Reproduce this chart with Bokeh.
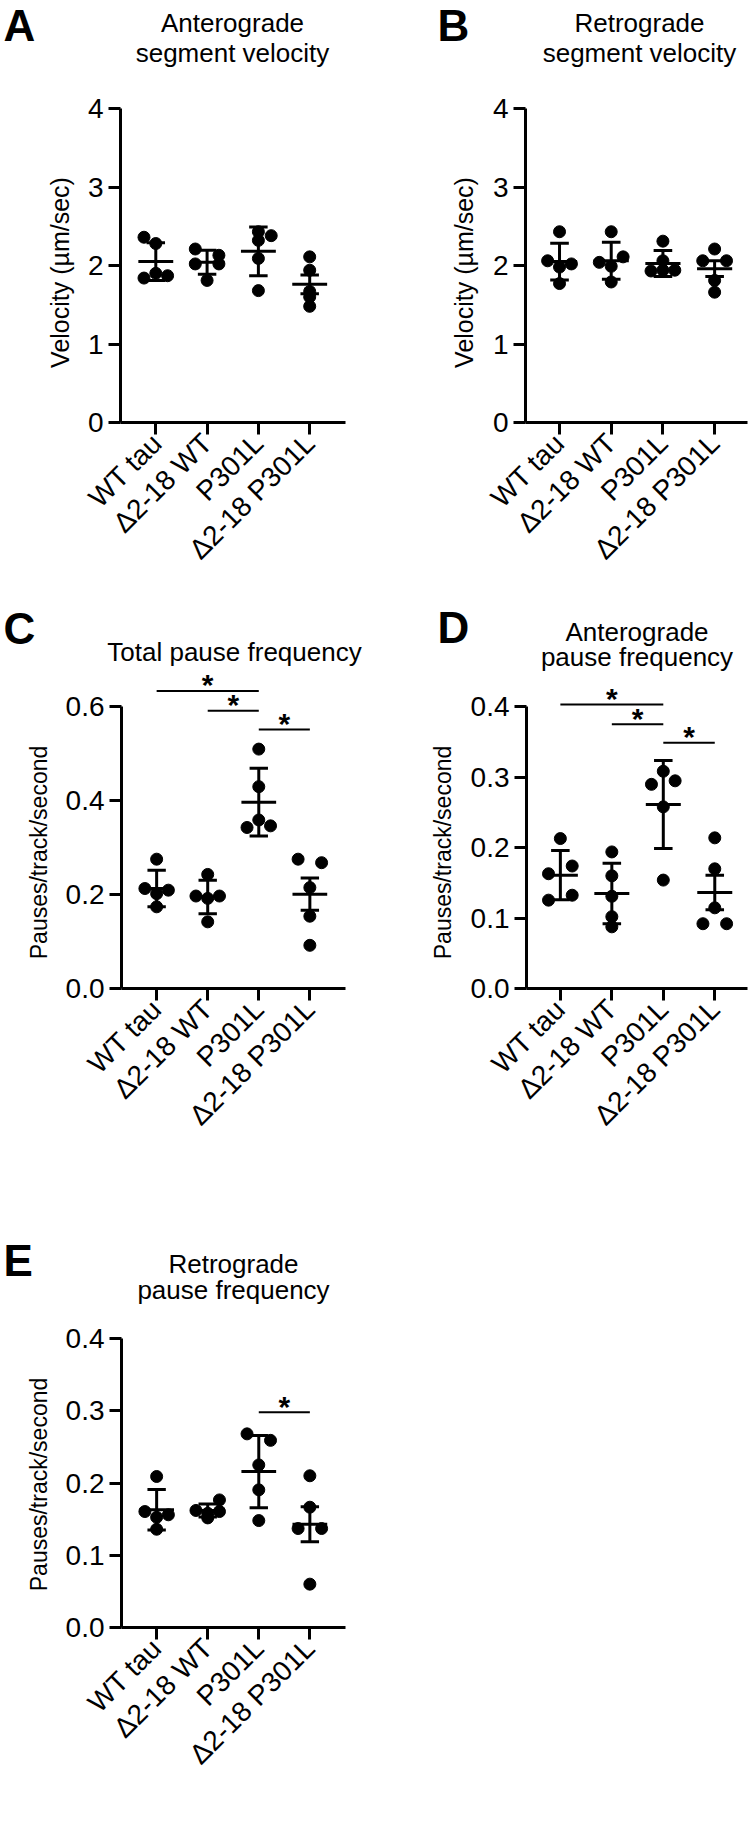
from math import pi
from bokeh.plotting import figure
from bokeh.models import Range1d, FixedTicker, Label, NumeralTickFormatter, ColumnDataSource
from bokeh.layouts import column, row
from bokeh.embed import file_html
from bokeh.resources import INLINE
from bokeh.core.properties import value

groups = ["WT tau", "Δ2-18 WT", "P301L", "Δ2-18 P301L"]

# ---- Panel A: anterograde segment velocity (µm/sec)
a_values = [[2.36, 2.28, 1.84, 1.90, 1.87],
            [2.21, 2.13, 2.02, 2.02, 1.81],
            [2.43, 2.38, 2.32, 2.09, 1.68],
            [2.11, 1.94, 1.67, 1.60, 1.48]]
a_means = [2.05, 2.04, 2.18, 1.76]
a_errs = [0.24, 0.153, 0.31, 0.12]

# ---- Panel B: retrograde segment velocity (µm/sec)
b_values = [[2.43, 2.06, 2.02, 1.98, 1.77],
            [2.43, 2.11, 2.04, 1.99, 1.79],
            [2.31, 2.06, 1.94, 1.93, 1.94],
            [2.21, 2.06, 2.06, 1.81, 1.66]]
b_means = [2.05, 2.06, 2.025, 1.96]
b_errs = [0.235, 0.236, 0.166, 0.10]

# ---- Panel C: total pause frequency
c_values = [[0.2755, 0.213, 0.2095, 0.202, 0.174],
            [0.243, 0.197, 0.197, 0.192, 0.142],
            [0.51, 0.43, 0.359, 0.343, 0.3465],
            [0.2755, 0.268, 0.215, 0.154, 0.092]]
c_means = [0.213, 0.195, 0.397, 0.201]
c_errs = [0.039, 0.0355, 0.072, 0.0345]
c_sig = [(1, 3, 0.634), (2, 3, 0.5915), (3, 4, 0.5517)]

# ---- Panel D: anterograde pause frequency
d_values = [[0.213, 0.174, 0.163, 0.1255, 0.1325],
            [0.194, 0.16, 0.131, 0.102, 0.0876],
            [0.3086, 0.29, 0.295, 0.258, 0.154],
            [0.214, 0.17, 0.1146, 0.092, 0.092]]
d_means = [0.161, 0.135, 0.2615, 0.1365]
d_errs = [0.035, 0.043, 0.0625, 0.0245]
d_sig = [(1, 3, 0.4033), (2, 3, 0.3754), (3, 4, 0.349)]

# ---- Panel E: retrograde pause frequency
e_values = [[0.209, 0.1605, 0.156, 0.1526, 0.136],
            [0.1766, 0.162, 0.1605, 0.158, 0.1517],
            [0.268, 0.259, 0.225, 0.1905, 0.148],
            [0.21, 0.1665, 0.137, 0.137, 0.06]]
e_means = [0.163, 0.162, 0.2158, 0.143]
e_errs = [0.028, 0.009, 0.05, 0.0243]
e_sig = [(3, 4, 0.298)]

# horizontal spread of the dots inside each group (scatter-dot layout)
a_offsets = [[-0.23, 0, -0.23, 0, 0.23], [-0.23, 0.23, -0.23, 0.23, 0], [0, 0.25, 0, 0, 0], [0, 0, 0, 0, 0]]
b_offsets = [[0, -0.23, 0.23, 0, 0], [0, 0.23, -0.23, 0, 0], [0, 0, 0, -0.23, 0.23], [0, -0.23, 0.23, 0, 0]]
c_offsets = [[0, -0.23, 0.23, 0, 0], [0, -0.23, 0.23, 0, 0], [0, 0, 0, -0.23, 0.23], [-0.23, 0.23, 0, 0, 0]]
d_offsets = [[0, 0.23, -0.23, -0.23, 0.23], [0, 0, 0, 0, 0], [0, -0.23, 0.23, 0, 0], [0, 0, 0, -0.23, 0.23]]
e_offsets = [[0, -0.23, 0.23, 0, 0], [0.23, -0.23, 0.23, 0, 0], [-0.23, 0.23, 0, 0, 0], [0, 0, -0.23, 0.23, 0]]

FONT = "Liberation Sans"
TICK_FS = "28px"
BASE_FIX = 0.3465   # measured shift of the rendered baseline of labels, in em


def blank(w, h):
    p = figure(width=w, height=h, min_border=0, x_axis_type=None, y_axis_type=None,
               output_backend="svg", toolbar_location=None, title=None)
    p.frame_align = False
    p.outline_line_color = None
    p.grid.visible = False
    p.background_fill_color = "white"
    p.border_fill_color = "white"
    return p


def put(p, x, y, text, size, bold=False, align="center", angle=0.0):
    """x, y: wanted baseline anchor, in px from the canvas' left / bottom."""
    if angle:
        x -= BASE_FIX * size
    else:
        y += BASE_FIX * size
    p.add_layout(Label(x=x, y=y, x_units="screen", y_units="screen", text=text,
                       text_font=FONT, text_font_size=f"{size}px",
                       text_font_style="bold" if bold else "normal",
                       text_align=align, text_baseline="alphabetic", angle=angle,
                       text_color="black"))


def main(w, h, bl, br, bt, bb, xr, ytop, yticks, yfmt, ybound,
         values, offsets, means, errs, sig=()):
    p = figure(width=w, height=h, min_border_left=bl, min_border_right=br,
               min_border_top=bt, min_border_bottom=bb,
               x_range=Range1d(*xr), y_range=Range1d(0, ytop),
               output_backend="svg", toolbar_location=None, title=None)
    p.frame_align = False
    p.outline_line_color = None
    p.grid.visible = False
    p.background_fill_color = "white"
    p.border_fill_color = "white"
    xa = p.xaxis[0]
    ya = p.yaxis[0]
    xa.ticker = FixedTicker(ticks=[1, 2, 3, 4])
    xa.major_label_overrides = {i + 1: g for i, g in enumerate(groups)}
    xa.major_label_orientation = pi / 4
    xa.major_label_standoff = 4
    ya.ticker = FixedTicker(ticks=yticks)
    ya.formatter = NumeralTickFormatter(format=yfmt)
    ya.bounds = (0, ybound)
    ya.major_label_standoff = 5
    for ax in (xa, ya):
        ax.axis_line_width = 3
        ax.axis_line_color = "black"
        ax.major_tick_line_width = 3
        ax.major_tick_line_color = "black"
        ax.major_tick_out = 12
        ax.major_tick_in = 0
        ax.minor_tick_line_color = None
        ax.major_label_text_font = FONT
        ax.major_label_text_font_size = TICK_FS
        ax.major_label_text_color = "black"

    xs, ys = [], []
    for gi, (vals, offs) in enumerate(zip(values, offsets)):
        for v, o in zip(vals, offs):
            xs.append(gi + 1 + o)
            ys.append(v)
    p.scatter(xs, ys, size=12, color="black")

    gx = [i + 1 for i in range(len(means))]
    lo = [m - e for m, e in zip(means, errs)]
    hi = [m + e for m, e in zip(means, errs)]
    src = ColumnDataSource(dict(x=gx, m=means, lo=lo, hi=hi,
                                ml=[x - 0.34 for x in gx], mr=[x + 0.34 for x in gx],
                                cl=[x - 0.18 for x in gx], cr=[x + 0.18 for x in gx]))
    p.segment(x0="x", x1="x", y0="lo", y1="hi", source=src, line_width=3, line_color="black")
    p.segment(x0="ml", x1="mr", y0="m", y1="m", source=src, line_width=3, line_color="black")
    p.segment(x0="cl", x1="cr", y0="lo", y1="lo", source=src, line_width=3, line_color="black")
    p.segment(x0="cl", x1="cr", y0="hi", y1="hi", source=src, line_width=3, line_color="black")

    if sig:
        s0 = [s[0] for s in sig]
        s1 = [s[1] for s in sig]
        sy = [s[2] for s in sig]
        p.segment(x0=s0, x1=s1, y0=sy, y1=sy, line_width=2, line_color="black")
        p.text(x=[(a + b) / 2 for a, b in zip(s0, s1)], y=sy, text=["*"] * len(sig),
               text_font=value(FONT), text_font_style="bold", text_font_size="30px",
               text_align="center", text_baseline="alphabetic", y_offset=-6,
               text_color="black")
    return p


XR_L = (0.312, 4.698)
XR_R = (0.342, 4.636)
TFS = 26   # title font size
VFS = 25   # "Velocity" axis label font size
PFS = 23   # "Pauses" axis label font size

# ----- Panel A (page x 0..420, y 0..600)
hA = blank(420, 75)
put(hA, 3, 35, "A", 44, bold=True, align="left")
put(hA, 232, 43, "Anterograde", TFS)
put(hA, 232, 13, "segment velocity", TFS)
sA = blank(82, 525)
put(sA, 68, 600 - 272, "Velocity (µm/sec)", VFS, angle=pi / 2)
mA = main(338, 525, 38, 75, 33, 178, XR_L, 4, [0, 1, 2, 3, 4], "0", 4,
          a_values, a_offsets, a_means, a_errs)
panelA = column(hA, row(sA, mA))

# ----- Panel B (page x 420..750, y 0..600)
hB = blank(330, 75)
put(hB, 17, 35, "B", 44, bold=True, align="left")
put(hB, 219, 43, "Retrograde", TFS)
put(hB, 219, 13, "segment velocity", TFS)
sB = blank(64, 525)
put(sB, 52, 600 - 272, "Velocity (µm/sec)", VFS, angle=pi / 2)
mB = main(266, 525, 41, 3, 33, 178, XR_R, 4, [0, 1, 2, 3, 4], "0", 4,
          b_values, b_offsets, b_means, b_errs)
panelB = column(hB, row(sB, mB))

# ----- Panel C (page x 0..420, y 600..1235)
hC = blank(420, 67)
put(hC, 3, 24, "C", 44, bold=True, align="left")
put(hC, 234, 6, "Total pause frequency", TFS)
sC = blank(62, 568)
put(sC, 46, 1235 - 852, "Pauses/track/second", PFS, angle=pi / 2)
mC = main(358, 568, 58, 75, 0, 247, XR_L, 321 / 469.4, [0, 0.2, 0.4, 0.6], "0.0", 0.6,
          c_values, c_offsets, c_means, c_errs, c_sig)
panelC = column(hC, row(sC, mC))

# ----- Panel D (page x 420..750, y 600..1235)
hD = blank(330, 74)
put(hD, 17, 32, "D", 44, bold=True, align="left")
put(hD, 216.5, 33, "Anterograde", TFS)
put(hD, 216.5, 8, "pause frequency", TFS)
sD = blank(47, 561)
put(sD, 30, 1235 - 852, "Pauses/track/second", PFS, angle=pi / 2)
mD = main(283, 561, 58, 3, 0, 247, XR_R, 314 / 704, [0, 0.1, 0.2, 0.3, 0.4], "0.0", 0.4,
          d_values, d_offsets, d_means, d_errs, d_sig)
panelD = column(hD, row(sD, mD))

# ----- Panel E (page x 0..420, y 1235..1835)
hE = blank(420, 72)
put(hE, 3, 32, "E", 44, bold=True, align="left")
put(hE, 233, 34, "Retrograde", TFS)
put(hE, 233, 8, "pause frequency", TFS)
sE = blank(62, 528)
put(sE, 46, 1835 - 1484, "Pauses/track/second", PFS, angle=pi / 2)
mE = main(358, 528, 58, 75, 31, 208, XR_L, 0.4, [0, 0.1, 0.2, 0.3, 0.4], "0.0", 0.4,
          e_values, e_offsets, e_means, e_errs, e_sig)
panelE = column(hE, row(sE, mE))

layout = column(row(panelA, panelB), row(panelC, panelD), panelE)

open("out.html", "w").write(file_html(layout, INLINE))
